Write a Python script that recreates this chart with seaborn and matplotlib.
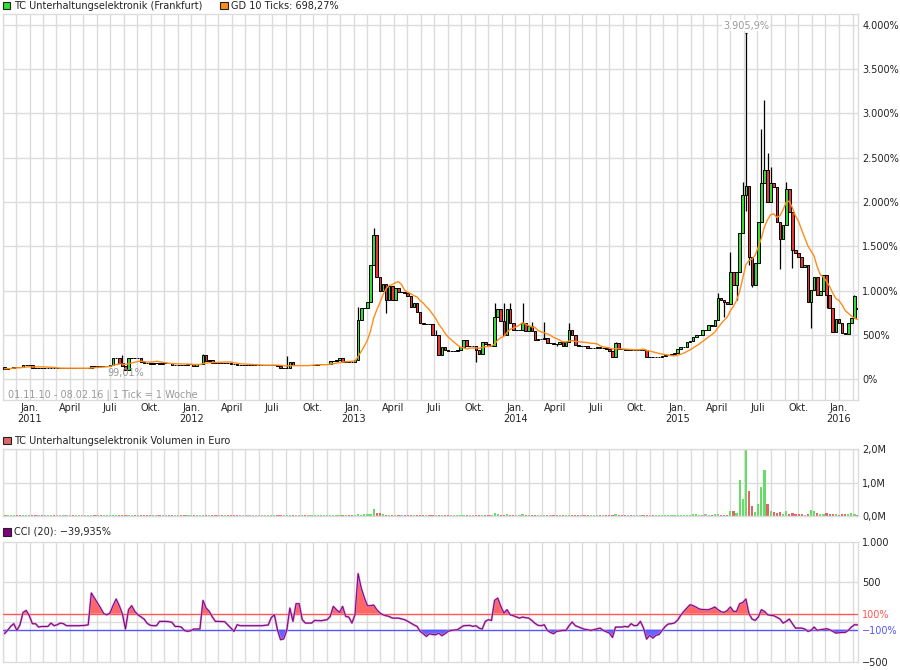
import numpy as np
import pandas as pd
import matplotlib
matplotlib.use("Agg")
import matplotlib.pyplot as plt
import matplotlib.dates as mdates
from matplotlib.patches import Rectangle
import seaborn as sns

# weekly closes in %, one per week 05.11.2010 .. 12.02.2016
close = [
    118, 122, 124, 140, 138, 135, 160, 165, 165, 130,
    125, 125, 124, 125, 125, 128, 125, 125, 125, 125,
    125, 125, 124, 125, 125, 125, 125, 125, 155, 150,
    150, 148, 150, 152, 165, 235, 237, 180, 150, 100,
    237, 237, 235, 237, 200, 182, 180, 170, 178, 178,
    176, 182, 182, 180, 165, 165, 166, 165, 164, 170,
    170, 150, 175, 175, 270, 210, 215, 185, 180, 180,
    178, 180, 178, 176, 175, 160, 160, 160, 160, 160,
    160, 160, 160, 160, 160, 160, 162, 165, 150, 125,
    125, 130, 200, 160, 160, 160, 162, 160, 160, 162,
    165, 168, 170, 170, 175, 210, 210, 220, 240, 200,
    210, 200, 190, 215, 670, 800, 805, 876, 1290, 1630,
    1150, 1000, 1080, 900, 1050, 900, 1030, 980, 980, 970,
    940, 820, 860, 763, 632, 620, 625, 620, 500, 500,
    270, 360, 330, 320, 320, 320, 330, 360, 444, 370,
    370, 370, 330, 280, 425, 400, 370, 370, 707, 790,
    660, 500, 790, 630, 560, 560, 560, 632, 540, 600,
    540, 444, 455, 455, 470, 413, 413, 400, 395, 420,
    370, 420, 560, 500, 390, 375, 375, 370, 350, 355,
    355, 365, 355, 355, 340, 320, 255, 406, 340, 338,
    330, 345, 330, 330, 330, 335, 330, 255, 255, 248,
    248, 250, 260, 270, 275, 280, 300, 340, 360, 368,
    424, 435, 480, 500, 500, 555, 555, 612, 600, 668,
    913, 893, 875, 850, 1214, 1064, 1214, 1647, 2080, 2180,
    1384, 1064, 1308, 1779, 2210, 2360, 2000, 2220, 2170, 1779,
    1585, 1741, 2150, 1890, 1459, 1421, 1384, 1270, 1290, 868,
    1008, 1150, 950, 1000, 1177, 950, 800, 537, 680, 640,
    518, 515, 632, 690, 940, 790,
]

# weeks that did not open at the previous close
open_gap = {0: 135, 275: 800}

# wicks sticking out of the bodies
high_wick = {38: 270, 64: 280, 91: 260, 114: 820, 119: 1705, 139: 560,
             158: 858, 161: 858, 163: 858, 167: 858, 170: 650, 174: 650,
             182: 640, 197: 420, 230: 970, 234: 1440, 238: 2230, 239: 3905.9,
             244: 2830, 245: 3150, 246: 2550, 247: 2400, 252: 2230, 274: 950}
low_wick = {39: 99.01, 123: 750, 152: 200, 178: 370, 232: 700, 236: 900,
            239: 1900, 240: 1290, 241: 1038, 250: 1250, 254: 1252, 260: 575,
            265: 800}

# weekly volume in Mio. Euro
volume_m = [
    0.03, 0.03, 0.03, 0.04, 0.03, 0.03, 0.04, 0.03, 0.03, 0.03,
    0.03, 0.03, 0.03, 0.03, 0.03, 0.03, 0.03, 0.03, 0.03, 0.03,
    0.03, 0.03, 0.03, 0.03, 0.03, 0.03, 0.03, 0.03, 0.04, 0.03,
    0.03, 0.03, 0.03, 0.03, 0.03, 0.04, 0.03, 0.04, 0.03, 0.04,
    0.04, 0.03, 0.03, 0.03, 0.03, 0.03, 0.03, 0.03, 0.03, 0.03,
    0.03, 0.03, 0.03, 0.03, 0.03, 0.03, 0.03, 0.03, 0.03, 0.03,
    0.03, 0.03, 0.03, 0.03, 0.04, 0.03, 0.03, 0.03, 0.03, 0.03,
    0.03, 0.03, 0.03, 0.03, 0.03, 0.03, 0.03, 0.03, 0.03, 0.03,
    0.03, 0.03, 0.03, 0.03, 0.03, 0.03, 0.03, 0.03, 0.03, 0.03,
    0.03, 0.03, 0.04, 0.03, 0.03, 0.03, 0.03, 0.03, 0.03, 0.03,
    0.03, 0.03, 0.03, 0.03, 0.03, 0.04, 0.03, 0.03, 0.04, 0.04,
    0.03, 0.03, 0.03, 0.03, 0.05, 0.04, 0.06, 0.05, 0.07, 0.20,
    0.08, 0.10, 0.07, 0.04, 0.04, 0.04, 0.04, 0.03, 0.03, 0.03,
    0.03, 0.04, 0.03, 0.03, 0.04, 0.03, 0.03, 0.03, 0.04, 0.03,
    0.04, 0.03, 0.03, 0.03, 0.03, 0.03, 0.03, 0.03, 0.04, 0.03,
    0.03, 0.03, 0.03, 0.03, 0.04, 0.03, 0.03, 0.03, 0.08, 0.06,
    0.04, 0.04, 0.06, 0.04, 0.03, 0.03, 0.03, 0.05, 0.03, 0.03,
    0.03, 0.03, 0.03, 0.03, 0.03, 0.03, 0.03, 0.03, 0.03, 0.03,
    0.03, 0.03, 0.04, 0.03, 0.03, 0.03, 0.03, 0.03, 0.03, 0.03,
    0.03, 0.03, 0.03, 0.03, 0.03, 0.03, 0.03, 0.07, 0.03, 0.03,
    0.03, 0.03, 0.03, 0.03, 0.03, 0.03, 0.03, 0.03, 0.03, 0.03,
    0.03, 0.03, 0.03, 0.03, 0.03, 0.03, 0.03, 0.04, 0.04, 0.04,
    0.04, 0.04, 0.06, 0.05, 0.04, 0.04, 0.05, 0.04, 0.04, 0.06,
    0.06, 0.04, 0.04, 0.04, 0.15, 0.16, 0.10, 1.08, 0.52, 2.00,
    0.76, 0.30, 0.12, 0.37, 0.87, 1.38, 0.37, 0.16, 0.13, 0.10,
    0.13, 0.06, 0.16, 0.06, 0.10, 0.06, 0.06, 0.06, 0.04, 0.06,
    0.19, 0.14, 0.08, 0.06, 0.06, 0.08, 0.06, 0.06, 0.06, 0.04,
    0.06, 0.06, 0.06, 0.10, 0.07, 0.04,
]

# CCI (20) per week
cci = [
    -150, -109, -59, -25, -109, -38, 116, 141, 75, -25,
    -25, -67, -60, -59, -59, -17, -50, -38, -17, -25,
    -50, -50, -50, -50, -50, -48, -46, -38, 358, 295,
    230, 170, 100, 87, 108, 200, 283, 200, 100, -92,
    150, 200, 129, 87, 60, 33, -20, -45, -50, -50,
    4, 4, 4, 0, -8, -59, -60, -67, -110, -121,
    -113, -92, -92, -92, 266, 170, 129, 60, 4, 4,
    2, 0, -40, -80, -121, -38, -50, -50, -50, -50,
    -50, -50, -50, -50, -45, -42, 50, 87, -100, -225,
    -215, -109, 170, 4, 225, 225, 25, -17, -17, -17,
    16, 14, 12, 18, 25, 66, 191, 150, 116, 191,
    66, 58, -17, 87, 600, 420, 300, 200, 200, 208,
    150, 110, 87, 75, 66, 45, 45, 45, 35, 25,
    5, -17, -40, -59, -121, -150, -184, -150, -160, -163,
    -142, -175, -150, -121, -109, -105, -100, -75, -50, -48,
    -46, -59, -50, -80, -92, 4, 25, 16, 266, 295,
    191, 108, 150, 87, 75, 60, 45, 58, 50, 45,
    16, -20, -45, -50, -38, -109, -134, -150, -121, -115,
    -109, -109, -50, -4, -50, -65, -80, -95, -100, -109,
    -100, -90, -80, -109, -125, -142, -196, -67, -67, -67,
    -59, -67, -25, -50, -46, 4, -80, -217, -170, -205,
    -170, -160, -109, -59, -29, -25, -15, 20, 80, 129,
    170, 212, 200, 180, 158, 152, 150, 150, 165, 183,
    150, 125, 116, 140, 183, 129, 129, 225, 240, 283,
    100, 33, 16, 58, 150, 129, 87, 80, 75, 55,
    33, -17, 4, 33, -25, -80, -80, -80, -92, -121,
    -109, -67, -109, -100, -95, -88, -100, -120, -142, -138,
    -134, -134, -109, -67, -38, -39.935,
]

price_ticks = [0, 500, 1000, 1500, 2000, 2500, 3000, 3500, 4000]
price_labels = ["0%", "500%", "1.000%", "1.500%", "2.000%", "2.500%", "3.000%", "3.500%", "4.000%"]
vol_ticks = [0, 1, 2]
vol_labels = ["0,0M", "1,0M", "2,0M"]
cci_ticks = [1000, 500, 100, -100, -500]
cci_labels = ["1.000", "500", "100%", "\u2212100%", "\u2212500"]
month_names = {1: "Jan.", 4: "April", 7: "Juli", 10: "Okt."}

# --- build the frame ---
df = pd.DataFrame({
    "date": pd.date_range("2010-11-05", periods=len(close), freq="7D"),
    "close": close,
    "volume": volume_m,
    "cci": cci,
})
df["open"] = df["close"].shift(1)
for k, v in open_gap.items():
    df.loc[k, "open"] = v
df["high"] = df[["open", "close"]].max(axis=1)
df["low"] = df[["open", "close"]].min(axis=1)
for k, v in high_wick.items():
    df.loc[k, "high"] = max(v, df.loc[k, "high"])
for k, v in low_wick.items():
    df.loc[k, "low"] = min(v, df.loc[k, "low"])
df["ma"] = df["close"].rolling(10, min_periods=1).mean()

up = df["close"] > df["open"]
down = df["close"] < df["open"]
body_col = np.where(up, "#33dd33", np.where(down, "#ee3333", "black"))
vol_col = np.where(up, "#66dd66", np.where(down, "#e06666", "#b0b0b0"))

sns.set_theme(style="white")
plt.rcParams["font.family"] = ["DejaVu Sans"]
grid_c = "#dcdcdc"
fs = 7

W, H = 900, 670
fig = plt.figure(figsize=(9, 6.7), dpi=100)


def px_axes(x0, y0, x1, y1):
    return fig.add_axes([x0 / W, 1 - y1 / H, (x1 - x0) / W, (y1 - y0) / H])


ax = px_axes(2.7, 14, 858, 400)
axv = px_axes(2.7, 449.3, 858, 516)
axc = px_axes(2.7, 541.7, 858, 661.7)

xmin, xmax = pd.Timestamp("2010-11-01"), pd.Timestamp("2016-02-13")

for a in (ax, axv, axc):
    a.set_xlim(xmin, xmax)
    a.xaxis.set_major_locator(mdates.MonthLocator(bymonth=[1, 4, 7, 10]))
    a.xaxis.set_minor_locator(mdates.MonthLocator())
    a.grid(which="both", axis="x", color=grid_c, lw=1)
    a.set_axisbelow(True)
    a.yaxis.tick_right()
    a.tick_params(axis="both", which="both", length=0, labelsize=fs, pad=3, colors="#222222")
    for s in a.spines.values():
        s.set_color(grid_c)
        s.set_linewidth(1)

# --- price panel ---
ax.vlines(df["date"], df["low"], df["high"], color="black", lw=0.9, zorder=2)
ax.bar(df["date"], (df["close"] - df["open"]).abs(), bottom=df[["open", "close"]].min(axis=1),
       width=6, color=body_col, edgecolor="black", linewidth=0.7, zorder=3)
sns.lineplot(x=df["date"], y=df["ma"], ax=ax, color="#ff8c1a", lw=1, zorder=4)
ax.set_ylim(-234, 4123)
ax.set_yticks(price_ticks)
ax.set_yticklabels(price_labels)
ax.grid(axis="y", color=grid_c, lw=1)


def qfmt(v, pos=None):
    d = mdates.num2date(v)
    name = month_names.get(d.month, "")
    return f"{name}\n{d.year}" if d.month == 1 else name


ax.xaxis.set_major_formatter(plt.FuncFormatter(qfmt))
ax.tick_params(axis="x", pad=2)
ax.set_xlabel("")
ax.set_ylabel("")

top_i = int(np.argmax(df["high"]))
top_d = df["date"][top_i]
ax.hlines(df["high"][top_i], top_d - pd.Timedelta(days=3), top_d + pd.Timedelta(days=3), color="black", lw=0.8, zorder=3)
ax.text(top_d, 3990, "3.905,9%", ha="center", va="center", fontsize=fs, color="#999999",
        bbox=dict(fc="white", ec="none", pad=0.5), zorder=5)
low_i = int(np.argmin(df["low"]))
ax.text(df["date"][low_i], 66, "99,01%", ha="center", va="center", fontsize=fs, color="#999999", zorder=5)
ax.text(5 / 855, 0.014, "01.11.10 - 08.02.16 | 1 Tick = 1 Woche", transform=ax.transAxes,
        ha="left", va="center", fontsize=fs, color="#999999")

# --- volume panel ---
axv.bar(df["date"], df["volume"], width=5, color=vol_col, linewidth=0)
axv.set_ylim(0, 2.0)
axv.set_yticks(vol_ticks)
axv.set_yticklabels(vol_labels)
axv.grid(axis="y", color=grid_c, lw=1)
axv.tick_params(axis="x", labelbottom=False)
axv.set_xlabel("")
axv.set_ylabel("")

# --- CCI panel ---
cv = df["cci"].to_numpy(dtype=float)
axc.fill_between(df["date"], cv, 100, where=cv >= 100, interpolate=True, color="#ff6666", lw=0, zorder=2)
axc.fill_between(df["date"], cv, -100, where=cv <= -100, interpolate=True, color="#6666ff", lw=0, zorder=2)
axc.axhline(500, color=grid_c, lw=1, zorder=1)
axc.axhline(0, color=grid_c, lw=1, zorder=1)
axc.axhline(100, color="#ff5555", lw=1, zorder=3)
axc.axhline(-100, color="#5555ff", lw=1, zorder=3)
sns.lineplot(x=df["date"], y=cv, ax=axc, color="#cc88cc", lw=1.5, zorder=4)
sns.lineplot(x=df["date"], y=cv, ax=axc, color="#800080", lw=0.7, zorder=5)
axc.set_ylim(-500, 1000)
axc.set_yticks(cci_ticks)
axc.set_yticklabels(cci_labels)
for lab, c in zip(axc.get_yticklabels(), ["#222222", "#222222", "#ff5555", "#5555ff", "#222222"]):
    lab.set_color(c)
axc.grid(False, axis="y")
axc.tick_params(axis="x", labelbottom=False)
axc.set_xlabel("")
axc.set_ylabel("")


# --- legends as small squares ---
def legend(x, y, color, text):
    fig.add_artist(Rectangle((x / W, 1 - (y + 7.5) / H), 7.5 / W, 7.5 / H, transform=fig.transFigure,
                             fc=color, ec="#222222", lw=0.8))
    fig.text((x + 11) / W, 1 - (y + 4) / H, text, ha="left", va="center", fontsize=fs, color="#222222")


legend(2.7, 1.7, "#33dd33", "TC Unterhaltungselektronik (Frankfurt)")
legend(220, 1.7, "#ff8c1a", "GD 10 Ticks: 698,27%")
legend(3.3, 436.5, "#e06666", "TC Unterhaltungselektronik Volumen in Euro")
legend(3.3, 528, "#800080", "CCI (20): \u221239,935%")

fig.savefig("out.png", dpi=100)
